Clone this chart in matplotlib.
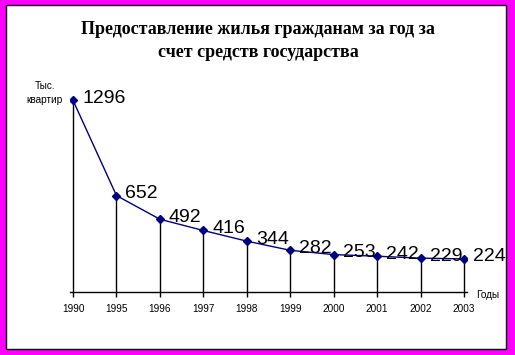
import numpy as np
import matplotlib.pyplot as plt
from matplotlib.patches import Rectangle

# ── DATA ──────────────────────────────────────────────────────────────────────
years = ["1990", "1995", "1996", "1997", "1998", "1999", "2000", "2001", "2002", "2003"]
values = [1296, 652, 492, 416, 344, 282, 253, 242, 229, 224]

title = "Предоставление жилья гражданам за год за\nсчет средств государства"
y_unit = "Тыс.\nквартир"
x_unit = "Годы"

# ── PLOT ──────────────────────────────────────────────────────────────────────
W, H = 515, 355
fig = plt.figure(figsize=(W / 100, H / 100), dpi=100)
fig.patch.set_facecolor("#ff00ff")

# white panel with thin black frame
fig.patches.append(Rectangle((6 / W, 1 - 349 / H), 500 / W, 344 / H,
                             transform=fig.transFigure, facecolor="white",
                             edgecolor="black", linewidth=1, zorder=-1))

fig.text(258 / W, 1 - 41 / H, title, ha="center", va="center",
         family="Liberation Serif", fontweight="bold", fontsize=13,
         linespacing=1.4)

ax = fig.add_axes([70 / W, 1 - 292 / H, 397 / W, 207 / H])
ax.set_zorder(2)
ax.set_facecolor("none")
x = np.arange(len(years))
ax.set_xlim(-0.07, len(years) - 1 + 0.07)
ax.set_ylim(0, 1400)

ax.vlines(x, 0, values, color="black", linewidth=1)
ax.plot(x, values, color="#000080", linewidth=1, marker="D", markersize=4.3,
        markerfacecolor="#000080", markeredgecolor="#000080")

for xi, v in zip(x, values):
    ax.annotate(str(v), (xi, v), xytext=(9, 2), textcoords="offset pixels",
                ha="left", va="center", fontsize=14, family="Liberation Sans")

for side in ["top", "right", "left"]:
    ax.spines[side].set_visible(False)
ax.spines["bottom"].set_linewidth(1)
ax.set_yticks([])
ax.set_xticks(x)
ax.set_xticklabels(years, family="Liberation Sans", fontsize=7.2)
ax.tick_params(axis="x", direction="out", length=3.5, width=1, pad=5)

fig.text(63 / W, 1 - 93 / H, y_unit, ha="right", va="center",
         family="Liberation Sans", fontsize=7.2, multialignment="center",
         linespacing=1.5)
fig.text(476 / W, 1 - 295 / H, x_unit, ha="left", va="center",
         family="Liberation Sans", fontsize=7.2)

plt.savefig("out.png", dpi=100, facecolor=fig.get_facecolor())
